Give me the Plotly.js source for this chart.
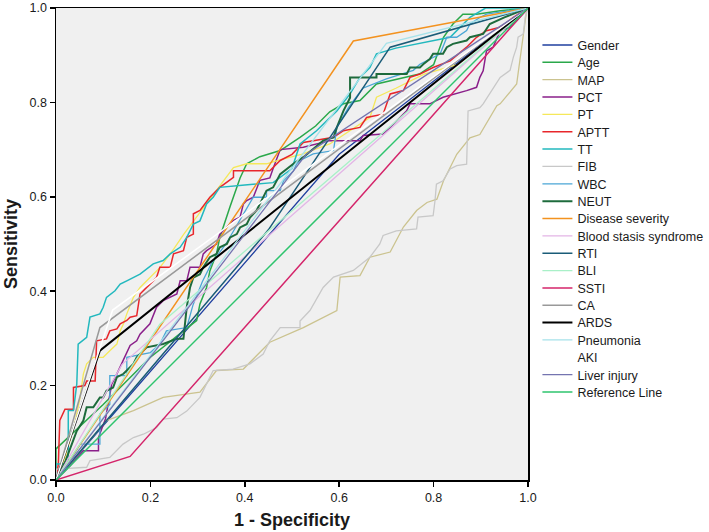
<!DOCTYPE html>
<html>
<head>
<meta charset="utf-8">
<script src="https://cdn.plot.ly/plotly-3.0.1.min.js"></script>
<style>html,body{margin:0;padding:0;background:#fff;}#chart{width:709px;height:532px;}</style>
</head>
<body>
<div id="chart"></div>
<script>
// Series names (legend order)
const seriesNames = ["Gender","Age","MAP","PCT","PT","APTT","TT","FIB","WBC","NEUT","Disease severity","Blood stasis syndrome","RTI","BLI","SSTI","CA","ARDS","Pneumonia","AKI","Liver injury","Reference Line"];

// 1 - Specificity (x) and Sensitivity (y) for each curve
const genderX = [0, 0.60, 1];
const genderY = [0, 0.69, 1];

const ageX = [0, 0, 0.10, 0.20, 0.298, 0.305, 0.319, 0.326, 0.34, 0.347, 0.369, 0.39, 0.404, 0.432, 0.475, 0.517, 0.55, 0.58, 0.609, 0.644, 0.679, 0.708, 0.736, 0.77, 0.80, 0.821, 0.841, 0.862, 0.891, 0.941, 1];
const ageY = [0, 0.066, 0.16, 0.26, 0.338, 0.373, 0.408, 0.443, 0.479, 0.514, 0.58, 0.64, 0.67, 0.685, 0.698, 0.726, 0.75, 0.78, 0.797, 0.804, 0.839, 0.846, 0.853, 0.86, 0.88, 0.938, 0.966, 0.987, 0.987, 0.994, 1];

const mapX = [0, 0.107, 0.164, 0.227, 0.305, 0.34, 0.397, 0.453, 0.524, 0.595, 0.602, 0.644, 0.665, 0.708, 0.736, 0.764, 0.786, 0.807, 0.821, 0.849, 0.877, 0.898, 0.934, 0.941, 0.976, 0.99, 0.997, 1];
const mapY = [0, 0.126, 0.147, 0.175, 0.186, 0.232, 0.235, 0.292, 0.323, 0.359, 0.43, 0.433, 0.472, 0.483, 0.536, 0.571, 0.588, 0.595, 0.634, 0.69, 0.725, 0.732, 0.793, 0.797, 0.839, 0.938, 0.994, 1];

const pctX = [0, 0.03, 0.058, 0.09, 0.09, 0.105, 0.118, 0.129, 0.157, 0.171, 0.178, 0.199, 0.213, 0.227, 0.256, 0.263, 0.277, 0.284, 0.305, 0.312, 0.319, 0.34, 0.347, 0.362, 0.376, 0.39, 0.397, 0.404, 0.418, 0.432, 0.453, 0.46, 0.475, 0.524, 0.58, 0.644, 0.651, 0.693, 0.708, 0.743, 0.75, 0.792, 0.82, 0.87, 0.891, 0.898, 0.905, 0.912, 0.926, 0.941, 0.962, 0.976, 1];
const pctY = [0, 0.03, 0.062, 0.062, 0.09, 0.13, 0.203, 0.225, 0.285, 0.295, 0.309, 0.331, 0.366, 0.38, 0.394, 0.422, 0.422, 0.451, 0.451, 0.479, 0.486, 0.5, 0.521, 0.536, 0.55, 0.557, 0.585, 0.592, 0.599, 0.635, 0.64, 0.66, 0.70, 0.705, 0.719, 0.719, 0.73, 0.733, 0.747, 0.782, 0.797, 0.797, 0.811, 0.825, 0.832, 0.853, 0.867, 0.909, 0.917, 0.952, 0.959, 0.973, 1];

const ptX = [0, 0.02, 0.04, 0.051, 0.058, 0.065, 0.079, 0.10, 0.114, 0.129, 0.136, 0.143, 0.15, 0.164, 0.178, 0.20, 0.22, 0.25, 0.27, 0.30, 0.319, 0.362, 0.376, 0.404, 0.446, 0.48, 0.52, 0.58, 0.623, 0.665, 0.679, 0.72, 0.78, 0.85, 0.90, 0.95, 1];
const ptY = [0, 0.05, 0.12, 0.175, 0.225, 0.246, 0.26, 0.26, 0.274, 0.288, 0.316, 0.331, 0.352, 0.387, 0.408, 0.43, 0.45, 0.49, 0.52, 0.56, 0.585, 0.641, 0.662, 0.67, 0.67, 0.68, 0.69, 0.712, 0.74, 0.768, 0.811, 0.83, 0.86, 0.88, 0.92, 0.96, 1];

const apttX = [0, 0.005, 0.008, 0.019, 0.037, 0.037, 0.061, 0.065, 0.083, 0.086, 0.107, 0.114, 0.129, 0.136, 0.15, 0.157, 0.171, 0.178, 0.199, 0.213, 0.22, 0.242, 0.249, 0.27, 0.277, 0.291, 0.291, 0.305, 0.326, 0.347, 0.376, 0.376, 0.453, 0.475, 0.50, 0.524, 0.588, 0.609, 0.644, 0.658, 0.693, 0.708, 0.736, 0.75, 0.771, 0.799, 0.835, 0.87, 0.891, 0.912, 0.941, 0.969, 1];
const apttY = [0, 0.034, 0.126, 0.15, 0.15, 0.196, 0.20, 0.21, 0.21, 0.295, 0.299, 0.316, 0.32, 0.331, 0.338, 0.345, 0.348, 0.394, 0.415, 0.429, 0.451, 0.451, 0.479, 0.486, 0.514, 0.521, 0.564, 0.571, 0.599, 0.62, 0.641, 0.655, 0.655, 0.677, 0.69, 0.715, 0.726, 0.74, 0.747, 0.768, 0.775, 0.818, 0.825, 0.853, 0.86, 0.874, 0.888, 0.917, 0.938, 0.952, 0.959, 0.98, 1];

const ttX = [0, 0, 0.026, 0.026, 0.037, 0.044, 0.047, 0.065, 0.072, 0.093, 0.10, 0.107, 0.125, 0.136, 0.15, 0.164, 0.178, 0.206, 0.227, 0.242, 0.263, 0.277, 0.291, 0.305, 0.319, 0.333, 0.347, 0.40, 0.46, 0.50, 0.517, 0.552, 0.595, 0.623, 0.644, 0.665, 0.679, 0.72, 0.835, 0.877, 0.91, 1];
const ttY = [0, 0.034, 0.034, 0.147, 0.147, 0.203, 0.288, 0.302, 0.345, 0.352, 0.366, 0.387, 0.401, 0.415, 0.422, 0.429, 0.436, 0.458, 0.465, 0.479, 0.493, 0.514, 0.542, 0.549, 0.585, 0.599, 0.62, 0.625, 0.63, 0.66, 0.712, 0.74, 0.782, 0.818, 0.853, 0.874, 0.903, 0.915, 0.938, 0.98, 1, 1];

const fibX = [0, 0.001, 0.065, 0.072, 0.114, 0.142, 0.164, 0.185, 0.213, 0.227, 0.256, 0.277, 0.305, 0.333, 0.375, 0.411, 0.439, 0.453, 0.475, 0.517, 0.517, 0.538, 0.566, 0.588, 0.63, 0.665, 0.686, 0.693, 0.721, 0.764, 0.767, 0.799, 0.803, 0.806, 0.82, 0.835, 0.849, 0.87, 0.873, 0.898, 0.905, 0.941, 0.962, 0.969, 0.976, 0.979, 0.99, 0.994, 1];
const fibY = [0, 0.023, 0.027, 0.041, 0.048, 0.076, 0.09, 0.097, 0.111, 0.129, 0.132, 0.146, 0.175, 0.232, 0.235, 0.246, 0.267, 0.295, 0.323, 0.323, 0.337, 0.359, 0.408, 0.43, 0.444, 0.472, 0.50, 0.518, 0.528, 0.532, 0.557, 0.56, 0.592, 0.627, 0.634, 0.659, 0.666, 0.669, 0.782, 0.789, 0.797, 0.853, 0.868, 0.896, 0.917, 0.938, 0.945, 0.98, 1];

const wbcX = [0, 0.03, 0.051, 0.093, 0.093, 0.114, 0.114, 0.15, 0.15, 0.20, 0.22, 0.234, 0.277, 0.29, 0.31, 0.33, 0.36, 0.39, 0.418, 0.446, 0.446, 0.475, 0.482, 0.503, 0.51, 0.517, 0.545, 0.588, 0.595, 0.62, 0.65, 0.70, 0.729, 0.757, 0.771, 0.814, 0.828, 0.849, 0.87, 0.877, 0.898, 0.912, 1];
const wbcY = [0, 0.04, 0.076, 0.076, 0.14, 0.16, 0.221, 0.221, 0.26, 0.27, 0.288, 0.316, 0.323, 0.37, 0.42, 0.46, 0.50, 0.55, 0.599, 0.599, 0.613, 0.613, 0.634, 0.655, 0.67, 0.677, 0.691, 0.698, 0.747, 0.79, 0.83, 0.85, 0.86, 0.868, 0.881, 0.903, 0.938, 0.938, 0.952, 0.966, 0.98, 0.987, 1];

const neutX = [0, 0.02, 0.044, 0.058, 0.065, 0.079, 0.093, 0.10, 0.107, 0.121, 0.129, 0.143, 0.15, 0.164, 0.171, 0.192, 0.227, 0.256, 0.27, 0.277, 0.284, 0.291, 0.305, 0.312, 0.326, 0.34, 0.347, 0.362, 0.369, 0.383, 0.39, 0.404, 0.411, 0.425, 0.432, 0.439, 0.446, 0.46, 0.467, 0.475, 0.503, 0.524, 0.566, 0.588, 0.595, 0.609, 0.623, 0.623, 0.679, 0.679, 0.743, 0.75, 0.771, 0.778, 0.792, 0.799, 0.82, 0.828, 0.841, 0.87, 0.877, 0.905, 0.919, 0.95, 1];
const neutY = [0, 0.04, 0.104, 0.126, 0.154, 0.154, 0.175, 0.175, 0.189, 0.196, 0.218, 0.225, 0.232, 0.246, 0.26, 0.281, 0.288, 0.299, 0.299, 0.366, 0.408, 0.429, 0.436, 0.451, 0.472, 0.479, 0.493, 0.50, 0.514, 0.521, 0.535, 0.542, 0.556, 0.571, 0.585, 0.599, 0.613, 0.62, 0.634, 0.648, 0.67, 0.684, 0.719, 0.726, 0.747, 0.782, 0.81, 0.853, 0.853, 0.86, 0.86, 0.874, 0.874, 0.881, 0.892, 0.903, 0.903, 0.917, 0.924, 0.931, 0.938, 0.945, 0.966, 0.98, 1];

const severityX = [0, 0.63, 1];
const severityY = [0, 0.93, 1];

const stasisX = [0, 0.14, 1];
const stasisY = [0, 0.245, 1];

const rtiX = [0, 0.45, 0.708, 1];
const rtiY = [0, 0.53, 0.917, 1];

const bliX = [0, 0.22, 1];
const bliY = [0, 0.33, 1];

const sstiX = [0, 0.157, 1];
const sstiY = [0, 0.05, 1];

const caX = [0, 0.093, 1];
const caY = [0, 0.323, 1];

const ardsX = [0, 0.093, 1];
const ardsY = [0, 0.274, 1];

const pneumoniaX = [0, 0.70, 1];
const pneumoniaY = [0, 0.925, 1];

const akiX = [0, 0.12, 1];
const akiY = [0, 0.36, 1];

const liverX = [0, 0.53, 1];
const liverY = [0, 0.69, 1];

const refX = [0, 1];
const refY = [0, 1];

const allX = [genderX, ageX, mapX, pctX, ptX, apttX, ttX, fibX, wbcX, neutX, severityX, stasisX, rtiX, bliX, sstiX, caX, ardsX, pneumoniaX, akiX, liverX, refX];
const allY = [genderY, ageY, mapY, pctY, ptY, apttY, ttY, fibY, wbcY, neutY, severityY, stasisY, rtiY, bliY, sstiY, caY, ardsY, pneumoniaY, akiY, liverY, refY];

const colors = ["#1f3f9f", "#2aa84a", "#cbc38f", "#8a1f8a", "#f5e85a", "#e8262b", "#22b8be", "#c8c8c8", "#4aa6d6", "#1e6b3c", "#f3921f", "#e3b5e6", "#1a5c78", "#a9f0c8", "#d4246a", "#999999", "#000000", "#a6e2ea", "#ffffff", "#7474b0", "#2ec46e"];
const widths = [1.3,1.5,1.3,1.5,1.3,1.5,1.5,1.3,1.3,2,1.5,1.3,1.5,1.3,1.5,1.5,2,1.3,1.5,1.3,1.5];

const traces = seriesNames.map((name, i) => ({
  type: 'scatter',
  mode: 'lines',
  name: name,
  x: allX[i],
  y: allY[i],
  line: {color: colors[i], width: widths[i]},
  hoverinfo: 'skip'
}));

const FONT = 'Arial, "Liberation Sans", sans-serif';

const axisCommon = {
  range: [0, 1],
  dtick: 0.2,
  tick0: 0,
  tickformat: '.1f',
  ticks: 'outside',
  ticklen: 5,
  tickwidth: 1.5,
  tickcolor: '#000',
  showline: true,
  linecolor: '#000',
  linewidth: 1.5,
  mirror: true,
  showgrid: false,
  zeroline: false,
  ticklabeloverflow: 'allow',
  tickfont: {family: FONT, size: 12.5, color: '#1a1a1a'},
  fixedrange: true
};

const layout = {
  width: 709,
  height: 532,
  margin: {l: 56, r: 181, t: 8, b: 52, pad: 0},
  paper_bgcolor: '#ffffff',
  plot_bgcolor: '#f0f0f0',
  showlegend: true,
  font: {family: FONT, size: 12, color: '#1a1a1a'},
  xaxis: Object.assign({}, axisCommon, {
    title: {text: '<b>1 - Specificity</b>', font: {family: FONT, size: 18, color: '#1a1a1a'}, standoff: 10}
  }),
  yaxis: Object.assign({}, axisCommon, {
    title: {text: '<b>Sensitivity</b>', font: {family: FONT, size: 18, color: '#1a1a1a'}, standoff: 7}
  }),
  legend: {
    xref: 'container',
    yref: 'container',
    x: 0.758,
    xanchor: 'left',
    y: 0.9429,
    yanchor: 'top',
    maxheight: 500,
    bgcolor: 'rgba(0,0,0,0)',
    font: {family: FONT, size: 12.5, color: '#1a1a1a'},
    itemwidth: 30,
    tracegroupgap: 0
  }
};

const gd = document.getElementById('chart');
Plotly.newPlot(gd, traces, layout, {displayModeBar: false, staticPlot: true}).then(function () {
  // tighten legend row spacing to match the reference (SPSS-style compact legend)
  const items = gd.querySelectorAll('.legend .traces');
  let y0 = null;
  items.forEach(function (el, i) {
    const t = el.getAttribute('transform') || '';
    const m = /translate\(\s*([-\d.]+)[ ,]+([-\d.]+)\s*\)/.exec(t);
    if (!m) return;
    const x = parseFloat(m[1]);
    if (y0 === null) y0 = parseFloat(m[2]);
    el.setAttribute('transform', 'translate(' + x + ',' + (y0 + i * 17.35) + ')');
  });
});
</script>
</body>
</html>
